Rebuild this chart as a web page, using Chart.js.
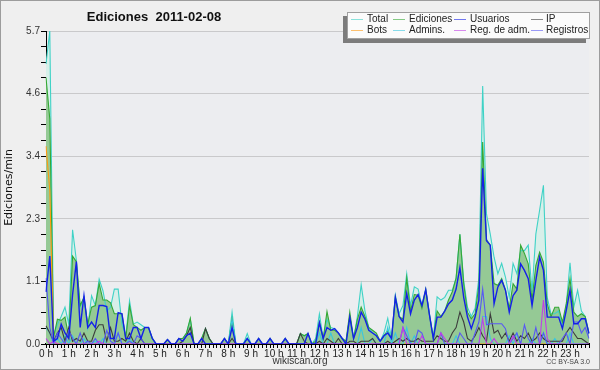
<!DOCTYPE html>
<html>
<head>
<meta charset="utf-8">
<script src="https://cdn.jsdelivr.net/npm/chart.js@4/dist/chart.umd.min.js"></script>
<style>
  body { margin:0; background:#fff; }
  #wrap { position:relative; width:600px; height:370px; background:#efefef; overflow:hidden; }
  #frame { position:absolute; left:0; top:0; width:600px; height:370px; box-sizing:border-box; border:1px solid #9c9c9c; pointer-events:none; }
  #title { position:absolute; left:154px; top:9px; transform:translateX(-50%); font:bold 13px "Liberation Sans", sans-serif; color:#111; white-space:nowrap; }
  #legend { position:absolute; left:347px; top:12px; width:241px; height:25px; background:#fbfbfb; border:1px solid #a0a0a0; box-shadow:-4px 4px 0 #7c7c7c; font:10px "Liberation Sans", sans-serif; color:#222; }
  #legend .it { position:absolute; white-space:nowrap; line-height:10px; }
  #legend .sw { position:absolute; width:12px; height:0; border-top:1px solid; }
  #foot { position:absolute; left:300px; top:355px; transform:translateX(-50%); font:10px "Liberation Sans", sans-serif; color:#333; }
  #cc { position:absolute; right:10px; top:358px; font:7px "Liberation Sans", sans-serif; color:#444; }
</style>
</head>
<body>
<div id="wrap">
  <canvas id="myChart" width="600" height="370"></canvas>
  <div id="title">Ediciones&nbsp;&nbsp;2011-02-08</div>
  <div id="legend"></div>
  <div id="foot">wikiscan.org</div>
  <div id="cc">CC BY-SA 3.0</div>
  <div id="frame"></div>
</div>
<script>
// one value every 10 minutes, one line per hour
var hourLabels = ['0 h','1 h','2 h','3 h','4 h','5 h','6 h','7 h','8 h','9 h','10 h','11 h',
                  '12 h','13 h','14 h','15 h','16 h','17 h','18 h','19 h','20 h','21 h','22 h','23 h'];
var yTickValues = [0, 1.14, 2.28, 3.42, 4.56, 5.7];

var total = [
 5.1,5.7,0.18,0.35,0.5,0.67,
 0.36,2.08,1.52,0.67,0.85,0.3,
 0.88,0.7,1.18,0.97,0.6,0.67,
 1.0,1.0,0.36,0.15,0.79,0.36,
 0.4,0.35,0.3,0.3,0.1,0,
 0,0,0.08,0,0,0.1,
 0.1,0.2,0.45,0,0,0.1,
 0.28,0.1,0,0,0,0.1,
 0,0.58,0,0,0,0.19,
 0,0,0.1,0,0,0.1,
 0,0,0,0.1,0,0,
 0,0.19,0.15,0.19,0,0.1,
 0.55,0.1,0.45,0.3,0.28,0.2,
 0.1,0.05,0.5,0.1,0.5,1.08,
 0.6,0.3,0.2,0.15,0.05,0.2,
 0.47,0.1,0.89,0.55,0.7,1.28,
 0.7,1.04,1.0,0.7,1.0,0.55,
 0.1,0.86,0.8,0.85,0.98,0.98,
 1.2,2.0,1.15,0.67,0.5,0.65,
 1.2,4.7,2.37,2.0,1.58,1.28,
 1.47,1.22,0.85,1.47,1.28,1.7,
 1.7,1.8,0.95,2.0,2.44,2.89,
 0.85,0.55,0.55,0.6,0.3,0.7,
 1.48,0.67,0.98,0.6,0.5,0.2
];
var ediciones = [
 4.85,4.1,0.12,0.45,0.43,0.49,
 0.12,1.6,1.5,0.7,0.85,0.36,
 0.67,0.7,1.1,0.8,0.8,0.75,
 0.55,0.55,0.55,0.1,0.7,0.35,
 0.3,0.25,0.3,0.3,0.1,0,
 0,0,0.08,0,0,0.1,
 0.1,0.2,0.47,0,0,0.1,
 0.28,0.1,0,0,0,0.1,
 0,0.45,0,0,0,0.1,
 0,0,0.1,0,0,0.1,
 0,0,0,0.1,0,0,
 0,0.19,0.15,0.19,0,0.05,
 0.4,0.1,0.59,0.25,0.25,0.2,
 0.1,0.05,0.58,0.1,0.45,0.67,
 0.5,0.3,0.25,0.2,0.05,0.15,
 0.25,0.1,0.85,0.5,0.45,1.2,
 0.6,0.9,0.89,0.65,0.99,0.52,
 0.1,0.6,0.5,0.6,0.8,0.95,
 1.2,2.0,1.1,0.58,0.46,0.55,
 1.07,3.68,1.9,1.8,1.1,1.07,
 1.19,0.98,0.65,1.1,1.0,1.8,
 1.65,1.46,0.8,1.43,1.67,1.49,
 0.73,0.5,0.67,0.67,0.4,0.73,
 1.19,0.58,0.5,0.55,0.5,0.2
];
var usuarios = [
 0.95,1.6,0.05,0.1,0.36,0.2,
 0.1,0.9,1.5,0.3,0.88,0.3,
 0.4,0.3,0.7,0.7,0.68,0.1,
 0.1,0.57,0.55,0.1,0.1,0.3,
 0.3,0.1,0.3,0.3,0.1,0,
 0,0,0.08,0,0,0.1,
 0.05,0.15,0.2,0,0,0.1,
 0,0,0,0,0,0.1,
 0,0.3,0,0,0,0.1,
 0,0,0.1,0,0,0.1,
 0,0,0,0.1,0,0,
 0,0,0,0.19,0,0,
 0.39,0.1,0.3,0.25,0.28,0.2,
 0.1,0,0.49,0.1,0.3,0.58,
 0.45,0.25,0.2,0.15,0.05,0.15,
 0.2,0.1,0.85,0.5,0.4,0.92,
 0.55,0.8,0.9,0.7,0.99,0.52,
 0.1,0.49,0.49,0.6,0.73,0.8,
 1.0,1.39,0.85,0.49,0.28,0.49,
 0.8,3.2,1.88,1.8,0.73,1.04,
 1.16,0.98,0.58,0.88,0.98,1.46,
 1.34,1.19,0.7,1.16,1.58,1.34,
 0.49,0.49,0.49,0.49,0.28,0.61,
 0.98,0.37,0.37,0.46,0.46,0.19
];
var ip = [
 0.33,0.2,0.05,0.2,0.3,0.05,
 0.3,0.05,0.1,0.05,0.2,0.05,
 0.05,0.25,0.35,0.35,0.05,0.3,
 0.05,0.05,0.1,0.05,0.2,0.05,
 0,0.1,0,0,0,0,
 0,0,0,0,0,0,
 0.05,0.15,0.3,0,0,0,
 0.28,0.1,0,0,0,0,
 0,0.1,0,0,0,0,
 0,0,0,0,0,0,
 0,0,0,0,0,0,
 0,0.19,0.05,0,0,0,
 0.05,0,0.1,0.05,0,0.1,
 0,0,0.05,0.05,0,0.05,
 0.05,0.05,0.1,0,0,0,
 0.05,0,0.05,0.1,0.05,0.1,
 0.05,0.05,0.1,0.05,0.05,0.05,
 0.05,0.15,0.1,0.05,0.05,0.2,
 0.3,0.58,0.4,0.1,0.05,0.15,
 0.3,0.15,0.05,0.55,0.2,0.25,
 0.1,0.2,0.05,0.2,0.05,0.15,
 0.1,0.2,0.05,0.1,0.2,0.1,
 0.05,0.05,0.05,0.05,0.05,0.2,
 0.3,0.2,0.1,0.1,0.05,0
];
var bots = [
 3.6,2.8,0,0,0,0,
 0,0,0,0,0,0, 0,0,0,0,0,0, 0,0,0,0,0,0, 0,0,0,0,0,0, 0,0,0,0,0,0,
 0,0,0,0,0,0, 0,0,0,0,0,0, 0,0,0,0,0,0, 0,0,0,0,0,0, 0,0,0,0,0,0, 0,0,0,0,0,0,
 0,0,0,0,0,0, 0,0,0,0,0,0, 0,0,0,0,0,0, 0,0,0,0,0,0, 0,0,0,0,0,0, 0,0,0,0,0,0,
 0,0,0,0,0,0, 0,0,0,0,0,0, 0,0,0,0,0,0, 0,0,0,0,0,0, 0,0,0,0,0,0
];
var admins = [
 0.3,0.2,0,0.1,0,0.15,
 0,0.15,0,0,0.1,0,
 0,0.05,0,0.1,0,0,
 0,0.2,0,0,0.1,0,
 0,0,0,0,0,0, 0,0,0,0,0,0, 0,0,0,0,0,0, 0,0,0,0,0,0,
 0,0.45,0,0,0,0.1,
 0,0,0,0,0,0, 0,0,0,0,0,0, 0,0,0,0,0,0,
 0.2,0,0,0.2,0,0,
 0,0,0,0,0,0.3,
 0,0,0.1,0,0,0,
 0.3,0,0.2,0,0,0.3,
 0,0.15,0,0,0,0,
 0,0,0,0,0,0,
 0.15,0,0,0,0,0,
 0,0.5,0.5,0.1,0,0,
 0,0,0.15,0,0.2,0,
 0,0,0.1,0,0,0.2,
 0,0,0.1,0,0,0,
 0.2,0,0,0,0,0
];
var regAdm = [
 0.1,0,0.05,0,0,0,
 0,0,0,0,0,0,
 0,0,0.05,0,0,0,
 0,0,0,0,0,0, 0,0,0,0,0,0, 0,0,0,0,0,0, 0,0,0,0,0,0, 0,0,0,0,0,0,
 0,0,0,0,0,0, 0,0,0,0,0,0, 0,0,0,0,0,0, 0,0,0,0,0,0, 0,0,0,0,0,0,
 0,0,0,0,0,0, 0,0,0,0,0,0,
 0,0,0,0,0.3,0,
 0,0,0,0.15,0,0,
 0,0,0.2,0.1,0,0,
 0,0,0,0,0,0,
 0,0.46,0,0,0.1,0,
 0,0,0,0.15,0,0,
 0,0,0,0,0,0.8,
 0.1,0,0,0,0,0,
 0,0,0,0,0,0
];
var registros = [
 1.2,0.3,0,0.2,0.1,0,
 0.25,0.1,0,0.2,0,0.05,
 0,0.1,0,0,0.25,0.05,
 0,0.2,0,0,0.05,0,
 0.15,0.1,0,0,0,0,
 0,0,0,0,0,0, 0,0,0,0,0,0, 0,0,0,0,0,0, 0,0,0,0,0,0, 0,0,0,0,0,0,
 0,0,0,0,0,0, 0,0,0,0,0,0, 0,0,0,0,0,0, 0,0,0,0,0,0, 0,0,0,0,0,0,
 0,0,0,0,0.3,0.15,
 0,0,0.25,0.2,0,0,
 0,0,0.2,0,0,0,
 0,0.2,0.1,0,0,0.2,
 0.4,1.0,0.35,0.37,0.37,0.37,
 0.37,0.28,0,0.1,0.2,0,
 0.35,0.1,0,0.3,0,0.2,
 0,0,0,0,0.1,0.2,
 0,0.4,0.4,0.2,0.3,0.1
];

// 10-minute categories: hour label then five blanks
var categories = [];
for (var h = 0; h < hourLabels.length; h++) {
  for (var m = 0; m < 6; m++) categories.push(m == 0 ? hourLabels[h] : '');
}

var series = [
  { label:'Total',        data:total,     color:'#3fd2c6', fill:'#d7efe9', order:8 },
  { label:'Ediciones',    data:ediciones, color:'#35a835', fill:'#95c995', order:7 },
  { label:'Usuarios',     data:usuarios,  color:'#1420e8', order:1 },
  { label:'IP',           data:ip,        color:'#3c3c3c', order:4 },
  { label:'Bots',         data:bots,      color:'#ff9a10', order:6 },
  { label:'Admins.',      data:admins,    color:'#3ac6e0', order:5 },
  { label:'Reg. de adm.', data:regAdm,    color:'#c23ee6', order:2 },
  { label:'Registros',    data:registros, color:'#5858f4', order:3 }
];

var datasets = series.map(function (s) {
  return {
    label: s.label, data: s.data, order: s.order,
    borderColor: s.color, borderWidth: s.label == 'Usuarios' ? 1.4 : 1.1,
    backgroundColor: s.fill || s.color,
    fill: s.fill ? 'origin' : false,
    pointRadius: 0, tension: 0
  };
});

var plotBg = {
  id: 'plotBg',
  beforeDraw: function (chart) {
    var a = chart.chartArea, c = chart.ctx;
    c.save(); c.fillStyle = '#ecedf0';
    c.fillRect(a.left, a.top, a.right - a.left, a.bottom - a.top);
    c.restore();
  }
};

var ctx = document.getElementById('myChart').getContext('2d');
var chart = new Chart(ctx, {
  type: 'line',
  data: { labels: categories, datasets: datasets },
  plugins: [plotBg],
  options: {
    responsive: false,
    animation: false,
    layout: { padding: { left: 2, top: 31, right: 11, bottom: 10 } },
    plugins: {
      legend: { display: false },
      tooltip: { enabled: false },
      filler: { drawTime: 'beforeDatasetsDraw' }
    },
    scales: {
      x: {
        type: 'category',
        offset: false,
        afterFit: function (s) { s.height = 16; },
        grid: { drawOnChartArea: false, tickLength: 4, color: '#000' },
        border: { color: '#000', width: 2 },
        ticks: { autoSkip: false, maxRotation: 0, padding: 0, color: '#222',
                 font: { family: 'Liberation Sans', size: 10 } }
      },
      y: {
        min: 0, max: 5.7,
        afterFit: function (s) { s.width = 44; },
        afterBuildTicks: function (s) {
          var t = [];
          for (var k = 0; k < yTickValues.length - 1; k++) {
            for (var q = 0; q < 4; q++) t.push({ value: yTickValues[k] + (yTickValues[k + 1] - yTickValues[k]) * q / 4 });
          }
          t.push({ value: yTickValues[yTickValues.length - 1] });
          s.ticks = t;
        },
        grid: {
          color: function (c) { return c.index % 4 == 0 ? '#c9c9cb' : 'rgba(0,0,0,0)'; },
          tickColor: '#000', tickLength: 5
        },
        border: { color: '#000', width: 1 },
        ticks: {
          padding: 1, color: '#333', font: { family: 'Liberation Sans', size: 10 },
          callback: function (v, i) { return i % 4 == 0 ? v.toFixed(1) : ''; }
        },
        title: { display: true, text: 'Ediciones/min', color: '#111',
                 padding: { top: 1, bottom: 0 }, font: { family: 'DejaVu Sans', size: 11 } }
      }
    }
  }
});

// legend box, 4 columns x 2 rows
var legendCols = [[3, 19], [45, 61], [106, 122], [183, 198]];
var legendRows = [6, 17];
var lg = document.getElementById('legend');
series.forEach(function (s, i) {
  var col = legendCols[i % 4], row = legendRows[Math.floor(i / 4)];
  var sw = document.createElement('span');
  sw.className = 'sw'; sw.style.left = col[0] + 'px'; sw.style.top = row + 'px';
  sw.style.borderColor = s.color; sw.style.opacity = 0.6;
  lg.appendChild(sw);
  var tx = document.createElement('span');
  tx.className = 'it'; tx.style.left = col[1] + 'px'; tx.style.top = (row - 5) + 'px';
  tx.textContent = s.label;
  lg.appendChild(tx);
});
</script>
</body>
</html>
